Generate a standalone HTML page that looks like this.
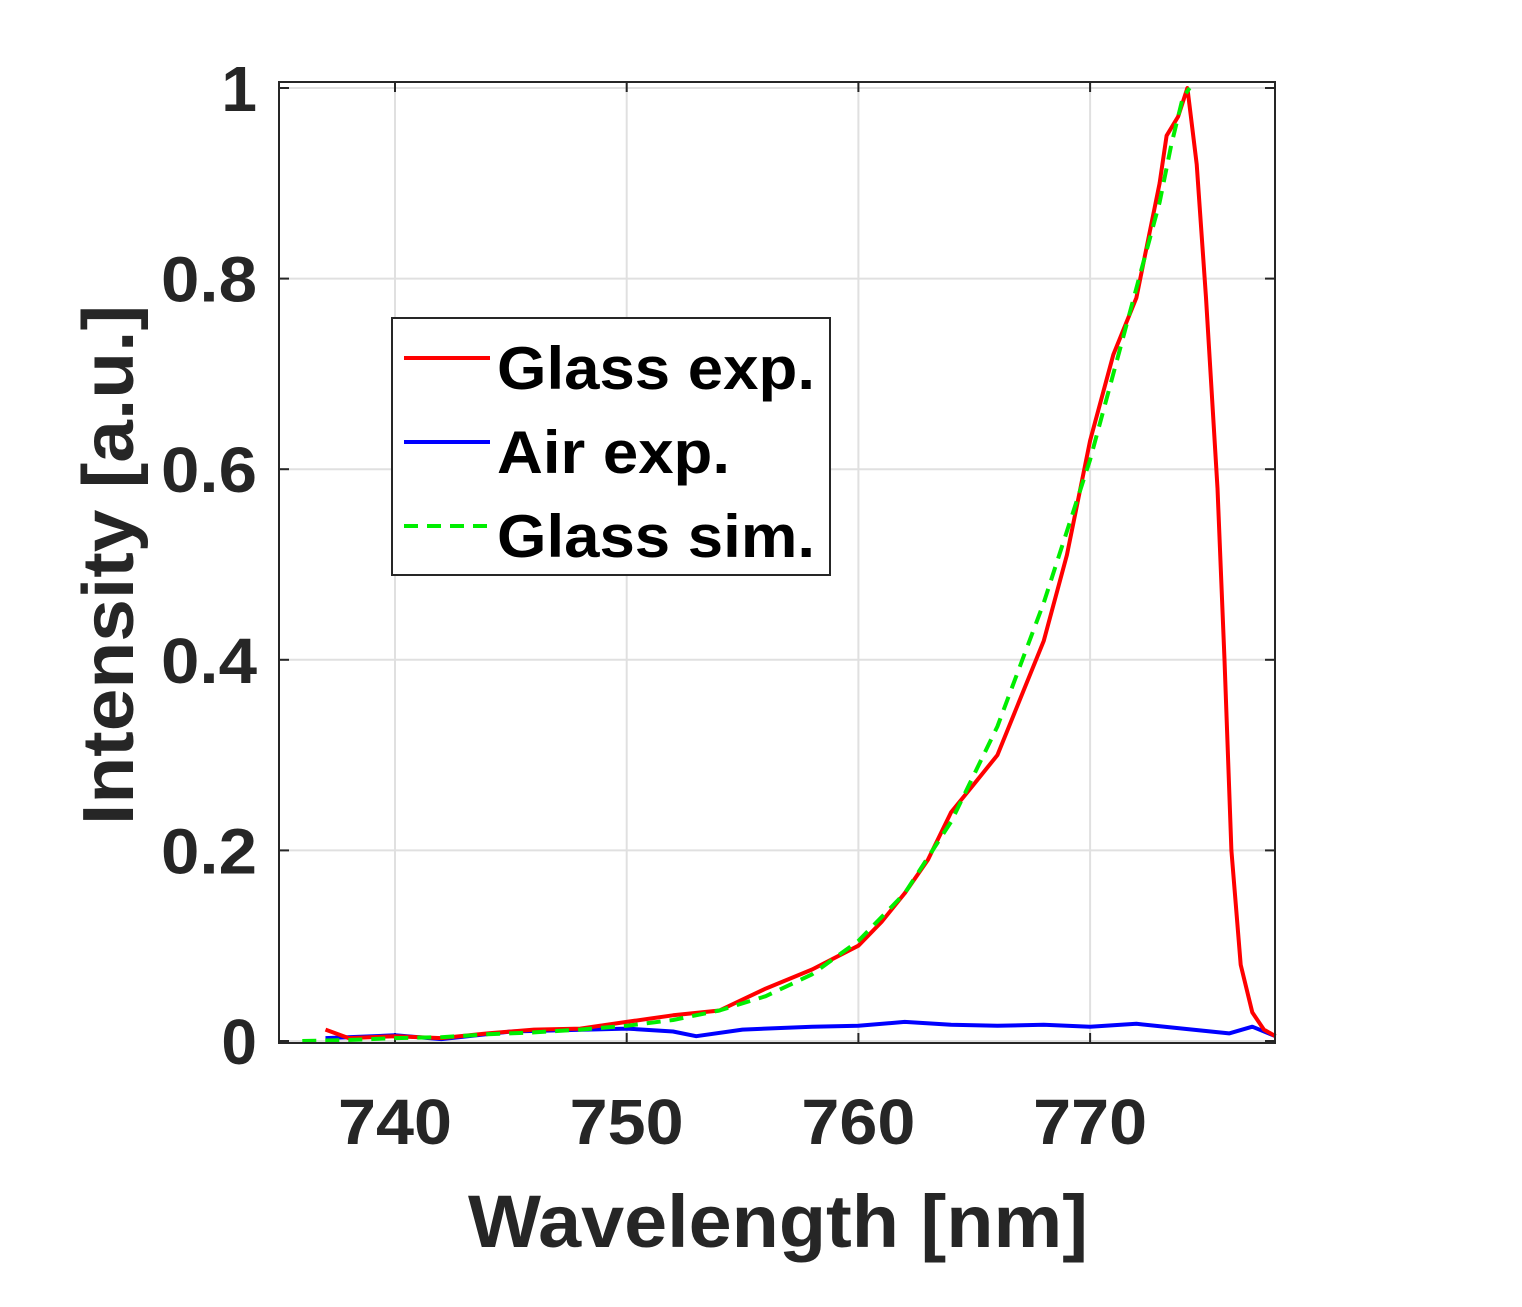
<!DOCTYPE html>
<html><head><meta charset="utf-8"><style>
html,body{margin:0;padding:0;background:#fff;}
svg{display:block;font-family:"Liberation Sans",Arial,sans-serif;font-weight:bold;}
</style></head><body>
<svg id="chart" width="1522" height="1307" viewBox="0 0 1522 1307"></svg>
<script>
const xTicks=[740,750,760,770];
const yTicks=[0,0.2,0.4,0.6,0.8,1];
const yTickLabels=["0","0.2","0.4","0.6","0.8","1"];
const glassExpX=[737,738,740,742,744,746,748,750,752,754,756,758,760,761,762,763,764,765,766,767,768,769,770,771,772,772.5,773,773.3,773.8,774.2,774.6,775,775.5,775.8,776.1,776.5,777,777.5,778];
const glassExpY=[0.012,0.003,0.005,0.003,0.008,0.012,0.013,0.02,0.027,0.032,0.055,0.075,0.1,0.125,0.155,0.19,0.24,0.27,0.3,0.36,0.42,0.51,0.63,0.72,0.78,0.84,0.9,0.95,0.97,1.0,0.92,0.78,0.58,0.4,0.2,0.08,0.03,0.012,0.005];
const airExpX=[737,740,742,745,750,752,753,755,758,760,762,764,766,768,770,772,774,776,777,778];
const airExpY=[0.003,0.006,0.002,0.01,0.013,0.01,0.005,0.012,0.015,0.016,0.02,0.017,0.016,0.017,0.015,0.018,0.013,0.008,0.015,0.005];
const glassSimX=[736,738,740,742,744,746,748,750,752,754,756,758,760,762,764,766,768,770,771,772,773,773.5,774,774.3];
const glassSimY=[0,0.001,0.003,0.004,0.007,0.009,0.012,0.016,0.022,0.032,0.047,0.07,0.105,0.155,0.23,0.33,0.46,0.61,0.7,0.79,0.88,0.94,0.99,1.0];

const L=279,R=1275,T=82,B=1043;
const sx=v=>395+(v-740)*23.17;
const sy=v=>1041-v*953;
const svg=document.getElementById('chart');
const NS='http://www.w3.org/2000/svg';
function mk(tag,attrs,parent){const e=document.createElementNS(NS,tag);for(const k in attrs)e.setAttribute(k,attrs[k]);(parent||svg).appendChild(e);return e;}

const grid=mk('g',{});


xTicks.forEach(t=>{mk('line',{x1:sx(t),x2:sx(t),y1:T,y2:B,stroke:'#e0e0e0','stroke-width':2},grid);});
yTicks.forEach(t=>{mk('line',{x1:L,x2:R,y1:sy(t),y2:sy(t),stroke:'#e0e0e0','stroke-width':2},grid);});

xTicks.forEach(t=>{
  const e=mk('text',{x:sx(t),y:1144,'text-anchor':'middle','font-size':64,fill:'#262626',textLength:114,lengthAdjust:'spacingAndGlyphs'});
  
  
  e.textContent=t;
  mk('line',{x1:sx(t),x2:sx(t),y1:B,y2:B-10,stroke:'#262626','stroke-width':2});
  mk('line',{x1:sx(t),x2:sx(t),y1:T,y2:T+10,stroke:'#262626','stroke-width':2});
});
yTicks.forEach((t,i)=>{
  const lab=yTickLabels[i];
  const attrs={x:257,y:sy(t)+23,'text-anchor':'end','font-size':64,fill:'#262626'};
  if(lab.length>1){attrs.textLength=96;attrs.lengthAdjust='spacingAndGlyphs';}
  const e=mk('text',attrs);
  
  
  e.textContent=lab;
  mk('line',{x1:L,x2:L+10,y1:sy(t),y2:sy(t),stroke:'#262626','stroke-width':2});
  mk('line',{x1:R,x2:R-10,y1:sy(t),y2:sy(t),stroke:'#262626','stroke-width':2});
});

function series(xs,ys,color,name,dash){
  const d=xs.map((x,i)=>(i?'L':'M')+sx(x).toFixed(1)+','+sy(ys[i]).toFixed(1)).join(' ');
  const p=mk('path',{d:d,fill:'none',stroke:color,'stroke-width':4,'stroke-linejoin':'round'});
  if(dash)p.setAttribute('stroke-dasharray',dash);
  
  
}
series(airExpX,airExpY,'#0000ff','air-exp-line');
series(glassExpX,glassExpY,'#ff0000','glass-exp-line');
series(glassSimX,glassSimY,'#00ee00','glass-sim-line','14,9');

const frame=mk('rect',{x:L,y:T,width:R-L,height:B-T,fill:'none',stroke:'#262626','stroke-width':2});



const xl=mk('text',{x:778,y:1247,'text-anchor':'middle','font-size':74,fill:'#262626',textLength:620,lengthAdjust:'spacingAndGlyphs'});


xl.textContent='Wavelength [nm]';
const yl=mk('text',{x:0,y:0,'text-anchor':'middle','font-size':72,fill:'#262626',textLength:520,lengthAdjust:'spacingAndGlyphs',transform:'translate(133,565) rotate(-90)'});


yl.textContent='Intensity [a.u.]';

const lg=mk('g',{});


mk('rect',{x:392,y:318,width:438,height:257,fill:'#fff',stroke:'#262626','stroke-width':2},lg);
const entries=[['Glass exp.','#ff0000',null,368,318],['Air exp.','#0000ff',null,452,233],['Glass sim.','#00ee00','14,9',536,318]];
entries.forEach(en=>{
  const g=mk('g',{},lg);
  
  
  const l=mk('line',{x1:404,x2:490,y1:en[3]-10,y2:en[3]-10,stroke:en[1],'stroke-width':4},g);
  if(en[2])l.setAttribute('stroke-dasharray',en[2]);
  const t=mk('text',{x:497,y:en[3]+21,'font-size':60,fill:'#000',textLength:en[4],lengthAdjust:'spacingAndGlyphs'},g);
  t.textContent=en[0];
});
</script>
</body></html>
